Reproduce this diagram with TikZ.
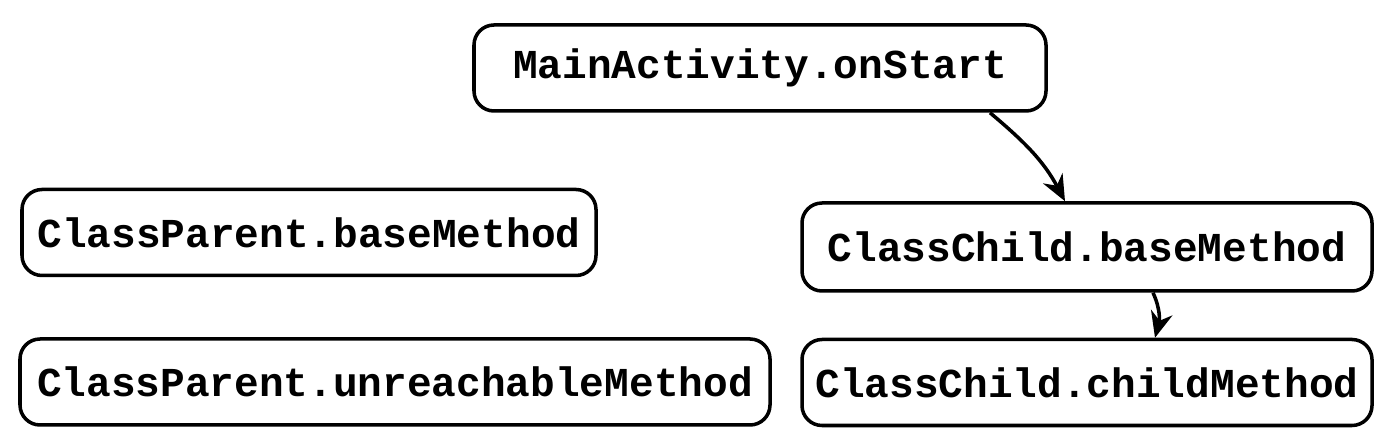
\documentclass[tikz,border=0pt]{standalone}
\usepackage{fontspec}
\setmonofont{Liberation Mono}
\usetikzlibrary{arrows.meta}
\begin{document}
\begin{tikzpicture}[main/.style = {draw, rounded corners=0.2cm, line width=1pt, minimum height=0.86cm, font=\ttfamily\bfseries\fontsize{11.7}{14}\selectfont}, >={Stealth[length=2.6mm, width=2.2mm]}]
\useasboundingbox (0,0) rectangle (14,4.48);
\node[main, minimum width=5.72cm] (1) at (7.60,3.80) {MainActivity.onStart};
\node[main, minimum width=5.74cm] (2) at (3.09,2.155) {ClassParent.baseMethod};
\node[main, minimum width=5.70cm, minimum height=0.88cm] (3) at (10.87,2.01) {ClassChild.baseMethod};
\node[main, minimum width=7.50cm] (4) at (3.95,0.66) {ClassParent.unreachableMethod};
\node[main, minimum width=5.70cm] (5) at (10.87,0.655) {ClassChild.childMethod};

\draw[->, line width=1pt] ([xshift=2.30cm]1.south) to[out=-40, in=118] ([xshift=-0.22cm]3.north);
\draw[->, line width=1pt] ([xshift=0.66cm]3.south) to[out=-65, in=75] ([xshift=0.68cm]5.north);
\end{tikzpicture}
\end{document}
